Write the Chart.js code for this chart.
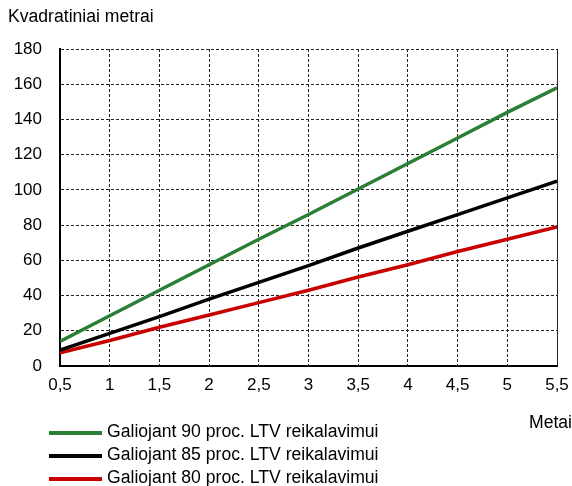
<!DOCTYPE html>
<html>
<head>
<meta charset="utf-8">
<script src="https://cdn.jsdelivr.net/npm/chart.js@4.4.1/dist/chart.umd.min.js"></script>
<style>
  body { margin: 0; background: #fff; font-family: "Liberation Sans", Arial, sans-serif; }
  #wrap { position: relative; width: 572px; height: 486px; overflow: hidden; }
  #chart { position: absolute; left: 0; top: 0; }
  .txt { position: absolute; font-size: 17.6px; color: #000; white-space: nowrap; }
  .leg { position: absolute; left: 49px; height: 20px; }
  .leg span.ln { position: absolute; left: 0; top: 9px; width: 53px; height: 4px; }
  .leg span.lb { position: absolute; left: 58px; top: -1px; font-size: 17.6px; white-space: nowrap; }
</style>
</head>
<body>
<div id="wrap">
  <canvas id="chart" width="572" height="486"></canvas>
  <div class="txt" style="left:8px; top:6px;">Kvadratiniai metrai</div>
  <div class="txt" style="left:529px; top:412px;">Metai</div>
  <div id="legend"></div>
</div>
<script>
// metai (x)
var years = [0.5, 1, 1.5, 2, 2.5, 3, 3.5, 4, 4.5, 5, 5.5]
// kvadratiniai metrai
var ltv90 = [14, 28.5, 43, 57.5, 72, 86, 100.5, 115, 129.5, 144, 158]
var ltv85 = [9, 18.5, 28, 38, 47.5, 57, 67, 76.5, 86, 95.5, 105]
var ltv80 = [7.5, 14.5, 22, 29, 36, 43, 50.5, 57.5, 65, 72, 79]

var seriesNames = [
  'Galiojant 90 proc. LTV reikalavimui',
  'Galiojant 85 proc. LTV reikalavimui',
  'Galiojant 80 proc. LTV reikalavimui'
]
var seriesColors = ['#2a7f34', '#000000', '#c80000']

function toPoints(arr) {
  var pts = []
  for (let i = 0; i < years.length; i++) {
    pts.push({ x: years[i], y: arr[i] })
  }
  return pts
}

var allSeries = [ltv90, ltv85, ltv80]
var datasets = []
for (let i = 0; i < allSeries.length; i++) {
  datasets.push({
    label: seriesNames[i],
    data: toPoints(allSeries[i]),
    borderColor: seriesColors[i],
    backgroundColor: seriesColors[i],
    borderWidth: 3.5,
    pointRadius: 0,
    tension: 0
  })
}

// legend
var legendBox = document.getElementById('legend')
for (let i = 0; i < seriesNames.length; i++) {
  var row = document.createElement('div')
  row.className = 'leg'
  row.style.top = (422 + i * 23) + 'px'
  row.innerHTML = "<span class='ln' style='background:" + seriesColors[i] + "'></span>" +
    "<span class='lb'>" + seriesNames[i] + "</span>"
  legendBox.appendChild(row)
}

var font = { family: '"Liberation Sans", Arial, sans-serif', size: 17 }

var ctx = document.getElementById('chart').getContext('2d')
var chart = new Chart(ctx, {
  type: 'line',
  data: { datasets: datasets },
  options: {
    responsive: false,
    animation: false,
    layout: { padding: { left: 0, top: 49, right: 15, bottom: 80 } },
    plugins: { legend: { display: false }, tooltip: { enabled: false } },
    scales: {
      x: {
        type: 'linear',
        min: 0.5,
        max: 5.5,
        afterFit: function(scale) {
          scale.height = 40
          scale.paddingRight = 0
          scale.paddingLeft = 0
        },
        ticks: {
          stepSize: 0.5,
          color: '#000',
          font: font,
          padding: 9,
          maxRotation: 0,
          callback: function(v) { return v.toString().replace('.', ',') }
        },
        grid: { color: '#222', lineWidth: 1, drawTicks: false },
        border: {
          color: '#000', width: 2,
          dash: function(c) { return c.index === 10 ? [] : [3, 2] }
        }
      },
      y: {
        min: 0,
        max: 180,
        afterFit: function(scale) {
          scale.width = 60
          scale.paddingTop = 0
          scale.paddingBottom = 0
        },
        ticks: { stepSize: 20, color: '#000', font: font, padding: 18 },
        grid: { color: '#222', lineWidth: 1, drawTicks: false },
        border: { color: '#000', width: 2, dash: [3, 2] }
      }
    }
  }
})
</script>
</body>
</html>
